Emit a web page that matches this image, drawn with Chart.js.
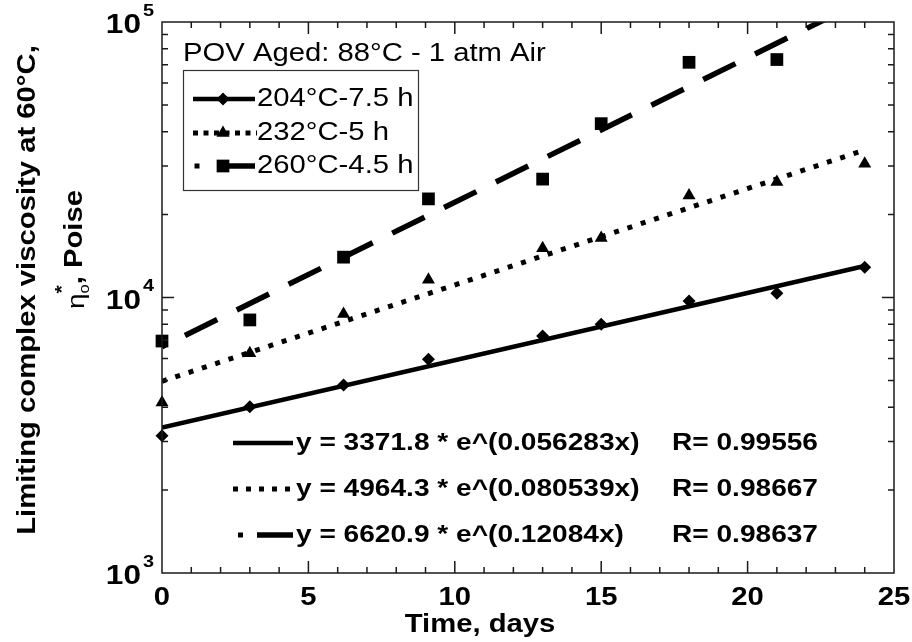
<!DOCTYPE html>
<html>
<head>
<meta charset="utf-8">
<title>Limiting complex viscosity vs. aging time</title>
<script src="https://cdn.jsdelivr.net/npm/chart.js@4.4.1/dist/chart.umd.min.js"></script>
<style>
  html, body { margin: 0; padding: 0; background: #fff; }
  #wrap { width: 912px; height: 642px; }
</style>
</head>
<body>
<div id="wrap"><canvas id="viscChart" width="912" height="642"></canvas></div>
<script>
'use strict';

// aging time at 88 C, days
const days = [0, 3, 6.2, 9.1, 13, 15, 18, 21, 24];

// eta*_o at 60 C (poise) for each pre-aging condition
const visc204 = [3150, 4010, 4810, 5970, 7250, 8000, 9720, 10370, 12880];
const visc232 = [4160, 6270, 8720, 11590, 15100, 16430, 23460, 26240, 30600];
const visc260 = [6950, 8290, 14010, 22800, 26900, 42760, 71400, 73070]; // 24 d point is off scale

const seriesNames = ['204°C-7.5 h', '232°C-5 h', '260°C-4.5 h'];

// exponential fits y = A * e^(k x)
const fitA = [3371.8, 4964.3, 6620.9];
const fitK = [0.056283, 0.080539, 0.12084];
const fitR = [0.99556, 0.98667, 0.98637];
const fitDays = [0, 24];

// axis labelling
const xTickLabels = [0, 5, 10, 15, 20, 25];
const yDecades = [1000, 10000, 100000];
const yExponents = ['3', '4', '5'];

const FONT = '"Liberation Sans", Arial, Helvetica, sans-serif';
const SX = 1.17; // lettering is a bit wider than plain Arial

function fitPoints(i) {
    return fitDays.map(d => ({ x: d, y: fitA[i] * Math.exp(fitK[i] * d) }));
}

function toPoints(values) {
    return values.map((v, i) => ({ x: days[i], y: v }));
}

// line look shared by plot and both keys
const lineStyles = [
    { dash: [], width: 4.5, offset: 0 },
    { dash: [5, 9], width: 5, offset: 0 },
    { dash: [36, 21.8], width: 5.5, offset: 32.2 },
];
const markerStyles = [
    { style: 'rectRot', radius: 6.5 },
    { style: 'triangle', radius: 7.5 },
    { style: 'rect', radius: 9 },
];

function text(ctx, str, x, y, font, align) {
    ctx.save();
    ctx.translate(x, y);
    ctx.scale(SX, 1);
    ctx.font = font;
    ctx.textAlign = align || 'left';
    ctx.textBaseline = 'middle';
    ctx.fillStyle = '#000';
    ctx.fillText(str, 0, 0);
    ctx.restore();
}

function marker(ctx, i, x, y) {
    const m = markerStyles[i];
    ctx.fillStyle = '#000';
    Chart.helpers.drawPoint(ctx, { pointStyle: m.style, radius: m.radius, rotation: 0, borderWidth: 0 }, x, y);
}

function segment(ctx, x0, x1, y, i, dash, offset) {
    ctx.save();
    ctx.strokeStyle = '#000';
    ctx.lineWidth = lineStyles[i].width;
    ctx.setLineDash(dash || []);
    ctx.lineDashOffset = offset || 0;
    ctx.beginPath();
    ctx.moveTo(x0, y);
    ctx.lineTo(x1, y);
    ctx.stroke();
    ctx.restore();
}

// frame with inward ticks on all four sides, plus all the lettering
const axisFrame = {
    id: 'axisFrame',
    afterDatasetsDraw(chart) {
        const { ctx, chartArea: a, scales: { x, y } } = chart;
        ctx.save();
        ctx.strokeStyle = '#1a1a1a';
        ctx.lineWidth = 1.5;
        ctx.strokeRect(a.left, a.top, a.right - a.left, a.bottom - a.top);
        ctx.beginPath();
        for (let d = 1; d < 25; d++) {
            const px = x.getPixelForValue(d);
            const len = d % 5 === 0 ? 12 : 6;
            ctx.moveTo(px, a.bottom); ctx.lineTo(px, a.bottom - len);
            ctx.moveTo(px, a.top); ctx.lineTo(px, a.top + len);
        }
        yDecades.slice(0, -1).forEach(dec => {
            for (let m = 1; m <= 9; m++) {
                if (dec === yDecades[0] && m === 1) continue;
                const py = y.getPixelForValue(dec * m);
                const len = m === 1 ? 12 : 6;
                ctx.moveTo(a.left, py); ctx.lineTo(a.left + len, py);
                ctx.moveTo(a.right, py); ctx.lineTo(a.right - len, py);
            }
        });
        ctx.stroke();
        ctx.restore();
    },
    afterDraw(chart) {
        const { ctx, chartArea: a, scales: { x, y } } = chart;

        // tick labels
        xTickLabels.forEach(v => text(ctx, String(v), x.getPixelForValue(v), a.bottom + 25, 'bold 25px ' + FONT, 'center'));
        yDecades.forEach((v, i) => {
            const py = y.getPixelForValue(v);
            text(ctx, '10', 141, py + 4, 'bold 27px ' + FONT, 'right');
            text(ctx, yExponents[i], 143, py - 11, 'bold 17px ' + FONT, 'left');
        });

        // axis titles
        text(ctx, 'Time, days', 480, a.bottom + 52, 'bold 25px ' + FONT, 'center');

        ctx.save();
        ctx.translate(28, 290);
        ctx.rotate(-Math.PI / 2);
        ctx.scale(SX, 1);
        ctx.textBaseline = 'middle';
        ctx.textAlign = 'center';
        ctx.fillStyle = '#000';
        ctx.font = 'bold 25px ' + FONT;
        ctx.fillText('Limiting complex viscosity at 60°C,', 0, 0);
        ctx.restore();

        // eta with * above and o below, then ", Poise"
        ctx.save();
        ctx.translate(75, 250);
        ctx.rotate(-Math.PI / 2);
        ctx.scale(SX, 1);
        ctx.textBaseline = 'middle';
        ctx.fillStyle = '#000';
        const runs = [
            { s: 'η', f: '24px ' + FONT, dy: 2 },
            { s: '*', f: 'bold 18px ' + FONT, dy: -12, back: false },
            { s: 'o', f: '14px ' + FONT, dy: 10, back: true },
            { s: ', Poise', f: 'bold 25px ' + FONT, dy: 0 },
        ];
        let total = 0;
        const widths = runs.map(r => { ctx.font = r.f; return ctx.measureText(r.s).width; });
        runs.forEach((r, i) => { if (!r.back) total += widths[i]; });
        let cx = -total / 2;
        runs.forEach((r, i) => {
            ctx.font = r.f;
            const x0 = r.back ? cx - widths[i - 1] : cx;
            ctx.fillText(r.s, x0, r.dy);
            if (!r.back) cx += widths[i];
            else cx = Math.max(cx, x0 + widths[i]);
        });
        ctx.restore();

        // condition caption and series key
        text(ctx, 'POV Aged: 88°C - 1 atm Air', 183, 54, '25px ' + FONT);
        ctx.save();
        ctx.strokeStyle = '#333';
        ctx.lineWidth = 1.2;
        ctx.strokeRect(183.5, 70.5, 235, 120);
        ctx.restore();
        const keyRows = [99, 133, 166];
        keyRows.forEach((ky, i) => {
            if (i === 0) segment(ctx, 193, 255, ky, 0);
            if (i === 1) segment(ctx, 193, 257, ky, 1, [5, 5.5]);
            if (i === 2) {
                ctx.fillStyle = '#000';
                ctx.fillRect(194.5, ky - 2.5, 5, 5);
                segment(ctx, 223, 255, ky, 2);
            }
            marker(ctx, i, 223, ky);
            text(ctx, seriesNames[i], 257, ky, '25px ' + FONT);
        });

        // fit equations
        const eqRows = [443, 489, 535];
        eqRows.forEach((ey, i) => {
            if (i === 0) segment(ctx, 233, 293, ey, 0);
            if (i === 1) segment(ctx, 233, 296, ey, 1, [5, 8]);
            if (i === 2) {
                ctx.fillStyle = '#000';
                ctx.fillRect(238, ey - 2.5, 5, 5);
                segment(ctx, 257, 293, ey, 2);
            }
            text(ctx, 'y = ' + fitA[i] + ' * e^(' + fitK[i] + 'x)', 296, ey, 'bold 24px ' + FONT);
            text(ctx, 'R= ' + fitR[i], 672, ey, 'bold 24px ' + FONT);
        });
    }
};

const pointSets = [visc204, visc232, visc260].map((vals, i) => ({
    label: seriesNames[i],
    data: toPoints(vals),
    showLine: false,
    pointStyle: markerStyles[i].style,
    pointRadius: markerStyles[i].radius,
    pointBackgroundColor: '#000',
    pointBorderWidth: 0,
    clip: false,
}));

const fitSets = fitA.map((_, i) => ({
    label: 'fit ' + seriesNames[i],
    data: fitPoints(i),
    showLine: true,
    borderColor: '#000',
    borderWidth: lineStyles[i].width,
    borderDash: lineStyles[i].dash,
    borderDashOffset: lineStyles[i].offset,
    borderCapStyle: 'butt',
    pointRadius: 0,
    tension: 0,
}));

const ctx = document.getElementById('viscChart').getContext('2d');
new Chart(ctx, {
    type: 'scatter',
    data: { datasets: [...pointSets, ...fitSets] },
    options: {
        responsive: false,
        animation: false,
        devicePixelRatio: 1,
        layout: { padding: { left: 162, top: 22, right: 18, bottom: 69 } },
        plugins: { legend: { display: false }, tooltip: { enabled: false } },
        scales: {
            x: { type: 'linear', min: 0, max: 25, display: false },
            y: { type: 'logarithmic', min: 1000, max: 100000, display: false },
        },
    },
    plugins: [axisFrame],
});
</script>
</body>
</html>
